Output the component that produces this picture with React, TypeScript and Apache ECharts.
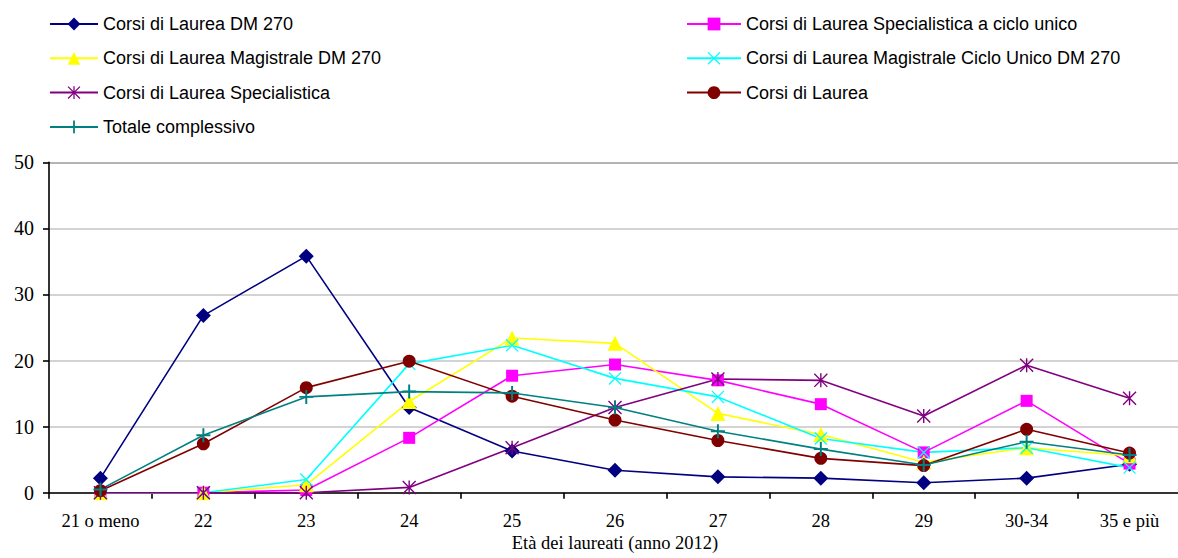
import React, { useEffect, useRef } from "react";
import * as echarts from "echarts";

const categories = ["21 o meno", "22", "23", "24", "25", "26", "27", "28", "29", "30-34", "35 e più"];
const yTicks = [0, 10, 20, 30, 40, 50];

const nameDm270 = "Corsi di Laurea DM 270";
const nameSpecCicloUnico = "Corsi di Laurea Specialistica a ciclo unico";
const nameMagDm270 = "Corsi di Laurea Magistrale DM 270";
const nameMagCicloUnico = "Corsi di Laurea Magistrale Ciclo Unico DM 270";
const nameSpec = "Corsi di Laurea Specialistica";
const nameLaurea = "Corsi di Laurea";
const nameTotale = "Totale complessivo";

const dm270 = [2.2, 26.8, 35.8, 12.9, 6.3, 3.4, 2.4, 2.2, 1.5, 2.2, 4.3];
const specCicloUnico = [0, 0, 0.4, 8.3, 17.7, 19.4, 17.0, 13.4, 6.1, 13.9, 4.4];
const magDm270 = [0, 0, 1.2, 13.8, 23.4, 22.6, 12.0, 8.8, 4.6, 6.8, 5.6];
const magCicloUnico = [0, 0, 2.0, 19.5, 22.3, 17.3, 14.5, 8.2, 6.1, 6.8, 3.8];
const spec = [0, 0, 0, 0.8, 6.8, 12.9, 17.2, 17.0, 11.6, 19.3, 14.3];
const laurea = [0.3, 7.4, 15.9, 19.9, 14.6, 11.0, 7.9, 5.2, 4.1, 9.6, 6.0];
const totale = [0.5, 8.7, 14.5, 15.3, 15.1, 12.9, 9.3, 6.6, 4.2, 7.7, 5.7];

const PLUS = "path://M43,0 H57 V43 H100 V57 H57 V100 H43 V57 H0 V43 H43 Z";
const XMARK = "path://M0,7 L7,0 L100,93 L93,100 Z M93,0 L100,7 L7,100 L0,93 Z";
const STAR = "path://M0,7 L7,0 L100,93 L93,100 Z M93,0 L100,7 L7,100 L0,93 Z M45,0 L55,0 L55,100 L45,100 Z";

const SERIF = "'Liberation Serif', 'Times New Roman', serif";
const SANS = "'Liberation Sans', Arial, sans-serif";

function mk(name: string, data: number[], color: string, symbol: string, size: number) {
  return {
    name,
    type: "line",
    data,
    symbol,
    symbolSize: size,
    showAllSymbol: true,
    clip: false,
    lineStyle: { color, width: 1.6 },
    itemStyle: { color, borderWidth: 0 },
    emphasis: { disabled: true },
  };
}

export default function App() {
  const ref = useRef<HTMLDivElement>(null);
  useEffect(() => {
    const chart = echarts.init(ref.current!, null, { renderer: "svg" });
    const legendText = { fontFamily: SANS, fontSize: 18, color: "#000", lineHeight: 18 };
    chart.setOption({
      animation: false,
      backgroundColor: "#fff",
      legend: [
        {
          orient: "vertical",
          left: 49,
          top: 15,
          itemWidth: 48,
          itemHeight: 16,
          itemGap: 16.3,
          padding: 0,
          textStyle: legendText,
          data: [nameDm270, nameMagDm270, nameSpec, nameTotale],
        },
        {
          orient: "vertical",
          left: 686,
          top: 15,
          itemWidth: 54,
          itemHeight: 16,
          itemGap: 16.3,
          padding: 0,
          textStyle: legendText,
          data: [nameSpecCicloUnico, nameMagCicloUnico, nameLaurea],
        },
      ],
      grid: { left: 49, right: -3, top: 162.3, bottom: 65.3, containLabel: false, outerBoundsMode: "none" },
      xAxis: {
        type: "category",
        data: categories,
        boundaryGap: true,
        name: "Età dei laureati (anno 2012)",
        nameLocation: "middle",
        nameGap: 41,
        nameMoveOverlap: false,
        nameTextStyle: { fontFamily: SERIF, fontSize: 18.5, lineHeight: 18, color: "#000", verticalAlign: "top" },
        axisLine: { lineStyle: { color: "#000", width: 1.6 } },
        axisTick: { show: true, length: 6, lineStyle: { color: "#000", width: 1.6 } },
        axisLabel: { fontFamily: SERIF, fontSize: 18.5, lineHeight: 16, color: "#000", margin: 20, interval: 0 },
        splitLine: { show: false },
      },
      yAxis: {
        type: "value",
        min: yTicks[0],
        max: yTicks[yTicks.length - 1],
        interval: 10,
        axisLine: { show: true, lineStyle: { color: "#000", width: 1.6 } },
        axisTick: { show: true, length: 6, lineStyle: { color: "#000", width: 1.6 } },
        axisLabel: { fontFamily: SERIF, fontSize: 20, color: "#000", margin: 15 },
        splitLine: { show: true, lineStyle: { color: ["#c4c4c4", "#c4c4c4", "#c4c4c4", "#c4c4c4", "#c4c4c4", "#9a9a9a"], width: 1.6 } },
      },
      series: [
        mk(nameDm270, dm270, "#000080", "diamond", 15),
        mk(nameSpecCicloUnico, specCicloUnico, "#FF00FF", "rect", 12),
        mk(nameMagDm270, magDm270, "#FFFF00", "triangle", 15),
        mk(nameMagCicloUnico, magCicloUnico, "#00FFFF", XMARK, 13),
        mk(nameSpec, spec, "#800080", STAR, 14),
        mk(nameLaurea, laurea, "#800000", "circle", 13),
        mk(nameTotale, totale, "#008080", PLUS, 14),
      ],
    });
    return () => chart.dispose();
  }, []);
  return (
    <div
      ref={ref}
      style={{ position: "fixed", left: 0, top: 0, width: 1178, height: 558, background: "#fff" }}
    />
  );
}
